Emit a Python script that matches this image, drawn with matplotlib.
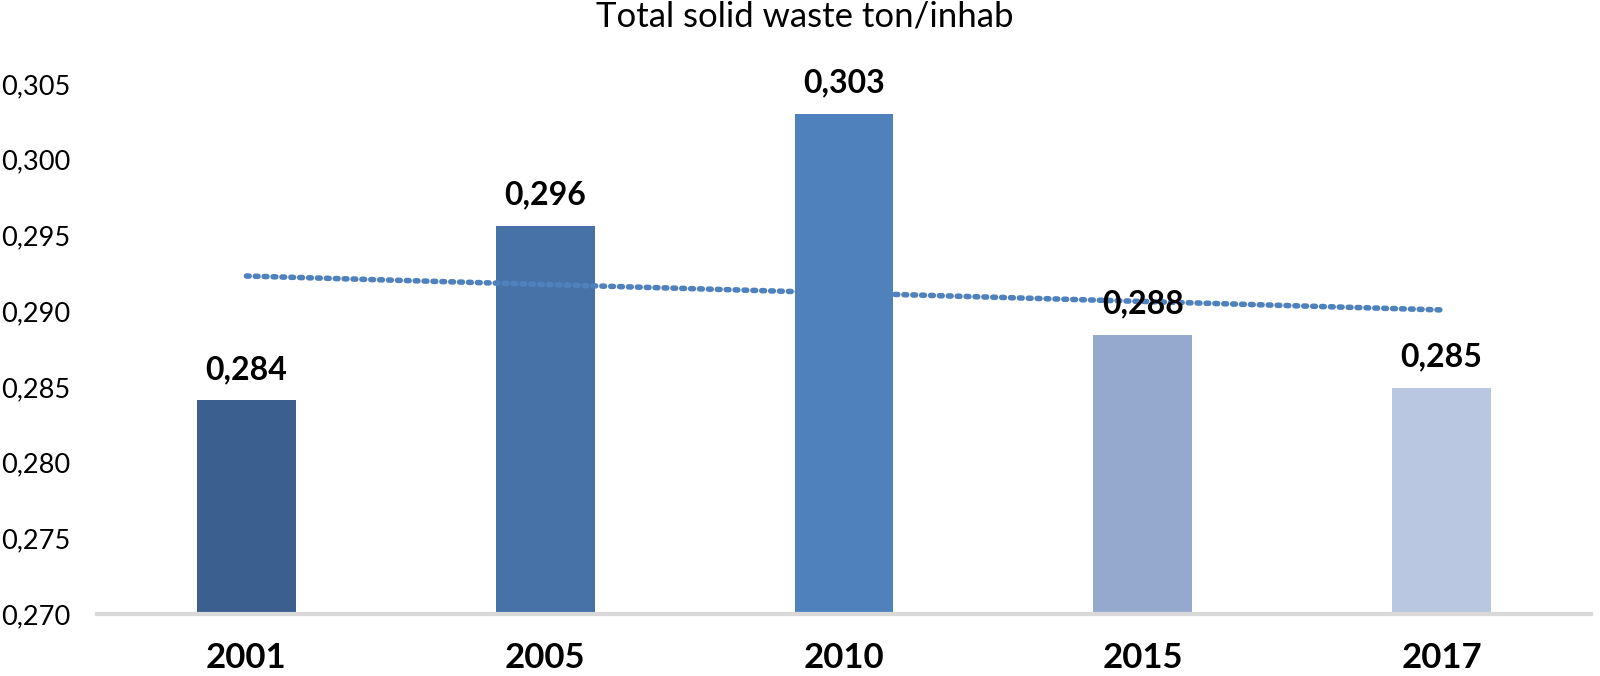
import numpy as np
from matplotlib import pyplot as plt

plt.rcParams['font.family'] = ['Lato', 'DejaVu Sans']

years = ["2001", "2005", "2010", "2015", "2017"]
waste = [0.2841, 0.2956, 0.3030, 0.2884, 0.2849]
labels = ["0,284", "0,296", "0,303", "0,288", "0,285"]
colors = ["#3B5F8E", "#4672A8", "#4F81BD", "#95A9CF", "#B9C7E0"]

fig = plt.figure(figsize=(16, 6.76), dpi=100)
ax = fig.add_axes([97 / 1600, 1 - 614 / 676, 1494 / 1600, 530 / 676])

x = np.arange(len(years))
ax.bar(x, waste, width=0.33, color=colors, bottom=0, zorder=2)

# linear trend line
k, b = np.polyfit(x, waste, 1)
ax.plot(x, k * x + b, linestyle=(0, (0.5, 1.1)), color="#4F81BD",
        linewidth=4, dash_capstyle="round", zorder=3)

for xi, v, lab in zip(x, waste, labels):
    ax.text(xi, v + 0.0011, lab, ha="center", va="bottom",
            fontsize=23, fontweight="bold", zorder=4)

yt = np.arange(0.270, 0.3051, 0.005)
ax.set_xlim(-0.5, 4.5)
ax.set_ylim(0.270, 0.305)
ax.set_yticks(yt)
ax.set_yticklabels([f"{t:.3f}".replace(".", ",") for t in yt], fontsize=19.5)
ax.set_xticks(x)
ax.set_xticklabels(years, fontsize=25, fontweight="bold")
ax.tick_params(axis="y", length=0, pad=19)
ax.tick_params(axis="x", length=0, pad=20)

for s in ["top", "right", "left"]:
    ax.spines[s].set_visible(False)
ax.spines["bottom"].set_color("#D9D9D9")
ax.spines["bottom"].set_linewidth(3)

fig.text(805 / 1600, 1 - 17 / 676, "Total solid waste ton/inhab", ha="center", va="center", fontsize=25)

fig.savefig("out.png", dpi=100)
